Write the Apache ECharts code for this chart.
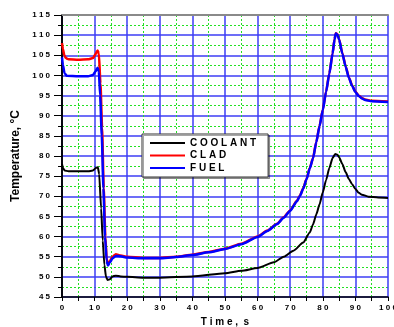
<!DOCTYPE html>
<html>
<head>
<meta charset="utf-8">
<script src="https://cdn.jsdelivr.net/npm/echarts@6/dist/echarts.min.js"></script>
<style>
  html, body { margin: 0; padding: 0; background: #fff; }
  #chart { width: 394px; height: 327px; }
</style>
</head>
<body>
<div id="chart"></div>
<script>
// time, s / temperature, °C
const coolantTime = [0, 0.3, 0.8, 2, 5, 8, 9.5, 10.5, 11, 11.4, 12, 12.5, 13, 13.5, 14, 14.7, 15.5, 16.5, 18, 20,
  25, 30, 40, 50, 55, 60, 65, 68, 71, 74, 76, 77, 78, 79, 80, 81, 82, 83, 83.8, 84.5, 85, 86, 87, 88, 89, 90, 91, 92, 94, 97, 100];
const coolantTemp = [78, 77, 76.4, 76.2, 76.2, 76.2, 76.4, 77.1, 77.2, 75.5, 67, 59, 53, 50, 49.2, 49.4, 50.1, 50.3, 50.1, 50.0,
  49.8, 49.8, 50.1, 50.9, 51.5, 52.2, 53.6, 55, 56.5, 58.5, 61, 63, 65.5, 68, 71, 74, 77, 79.5, 80.5, 80.3, 79.7, 78, 76, 74.3, 73, 71.8, 70.9, 70.4, 69.9, 69.7, 69.6];

const cladTime = [0, 0.3, 0.7, 1.2, 2, 5, 8, 9.5, 10.3, 10.9, 11.3, 11.8, 12.3, 12.8, 13.3, 13.7, 14.1, 14.6, 15.5, 16.5, 18, 20,
  25, 30, 35, 40, 45, 50, 55, 60, 63, 66, 68, 70, 72, 73, 74, 75, 76, 77, 78, 79, 80, 81, 82, 83, 83.6, 84, 84.5, 85, 86, 87, 88, 89, 90, 91, 92, 93, 95, 100];
const cladTemp = [108, 106.5, 105, 104.3, 104, 103.9, 104, 104.3, 105.3, 106.2, 105.5, 98, 87, 72, 60, 54.5, 53.3, 53.8, 55, 55.6, 55.3, 55.0,
  54.7, 54.7, 55.0, 55.5, 56.2, 57.0, 58.2, 60.0, 61.5, 63.2, 64.8, 66.5, 68.8, 70.2, 72, 74.3, 77, 79.5, 83.5, 87.5, 91.5, 96, 100.5, 105.5, 109, 110.5, 110.2, 109, 105.5, 102.3, 99.5, 97.5, 96, 95, 94.4, 94, 93.7, 93.5];

const fuelTime = [0, 0.3, 0.8, 1.5, 5, 8, 9.5, 10.3, 10.9, 11.3, 11.7, 12.2, 12.7, 13.2, 13.7, 14.1, 14.6, 15.5, 16.5, 18, 20,
  25, 30, 35, 40, 45, 50, 55, 60, 63, 66, 68, 70, 72, 73, 74, 75, 76, 77, 78, 79, 80, 81, 82, 83, 83.6, 84, 84.5, 85, 86, 87, 88, 89, 90, 91, 92, 93, 95, 100];
const fuelTemp = [104.5, 102.5, 100.5, 99.9, 99.8, 99.8, 100.1, 101, 101.9, 101, 95, 85, 72, 60, 54, 52.8, 53.5, 54.6, 55.2, 55.1, 54.8,
  54.6, 54.6, 54.9, 55.4, 56.1, 56.9, 58.1, 59.9, 61.4, 63.1, 64.7, 66.4, 68.7, 70.1, 71.9, 74.2, 76.9, 79.4, 83.4, 87.4, 91.4, 95.9, 100.4, 105.4, 108.9, 110.4, 110.1, 108.9, 105.4, 102.2, 99.4, 97.4, 95.9, 94.9, 94.3, 93.9, 93.6, 93.4];

const seriesNames = ['COOLANT', 'CLAD', 'FUEL'];

const spaced = s => String(s).split('').join(' ');
const pairs = (t, v) => t.map((x, i) => [x, v[i]]);

const chart = echarts.init(document.getElementById('chart'));
const font = '"Liberation Sans", Arial, sans-serif';

chart.setOption({
  animation: false,
  textStyle: { fontFamily: font },
  grid: { left: 62, right: 6, top: 15, bottom: 30, outerBoundsMode: 'none', containLabel: false },
  legend: {
    orient: 'vertical',
    left: 142,
    top: 134,
    padding: [4, 12, 4, 8],
    icon: 'rect',
    itemWidth: 35,
    itemHeight: 2,
    itemGap: 2.5,
    backgroundColor: '#fff',
    borderColor: '#333',
    borderWidth: 1,
    shadowColor: 'rgba(0,0,0,0.35)',
    shadowOffsetX: 1.5,
    shadowOffsetY: 1.5,
    shadowBlur: 0,
    data: seriesNames,
    formatter: name => spaced(name),
    textStyle: { fontFamily: font, fontWeight: 'bold', fontSize: 10, color: '#000' }
  },
  xAxis: [{
    type: 'value',
    min: 0,
    max: 100,
    interval: 10,
    name: spaced('Time,') + '  s',
    nameLocation: 'middle',
    nameGap: 20,
    nameTextStyle: { fontWeight: 'bold', fontSize: 10, color: '#000' },
    axisLine: { lineStyle: { color: '#000', width: 1.5 } },
    axisTick: { length: 4, lineStyle: { color: '#000', width: 1 } },
    minorTick: { show: true, splitNumber: 2, length: 4, lineStyle: { color: '#000', width: 1 } },
    axisLabel: { fontWeight: 'bold', fontSize: 8, color: '#000', margin: 7, formatter: v => spaced(v) },
    splitLine: { lineStyle: { color: '#3c3cf5', width: 1.5 } },
    minorSplitLine: { show: true, lineStyle: { color: '#22e022', width: 1, type: [2, 2] } }
  }, {
    type: 'value',
    position: 'top',
    min: 0,
    max: 100,
    axisLine: { show: true, lineStyle: { color: '#8a8a8a', width: 2 } },
    axisTick: { show: false },
    axisLabel: { show: false },
    splitLine: { show: false }
  }],
  yAxis: [{
    type: 'value',
    min: 45,
    max: 115,
    interval: 5,
    name: 'Temperature, °C',
    nameLocation: 'middle',
    nameGap: 37,
    nameTextStyle: { fontWeight: 'bold', fontSize: 12, color: '#000' },
    axisLine: { show: true, lineStyle: { color: '#000', width: 1.5 } },
    axisTick: { length: 8, lineStyle: { color: '#000', width: 1 } },
    minorTick: { show: true, splitNumber: 2, length: 4, lineStyle: { color: '#000', width: 1 } },
    axisLabel: { fontWeight: 'bold', fontSize: 8, color: '#000', margin: 12, formatter: v => spaced(v) },
    splitLine: { lineStyle: { color: '#3c3cf5', width: 1.5 } },
    minorSplitLine: { show: true, lineStyle: { color: '#22e022', width: 1, type: [2, 2] } }
  }, {
    type: 'value',
    position: 'right',
    min: 45,
    max: 115,
    axisLine: { show: true, lineStyle: { color: '#000', width: 1.5 } },
    axisTick: { show: false },
    axisLabel: { show: false },
    splitLine: { show: false }
  }],
  series: [
    {
      name: 'COOLANT', type: 'line', symbol: 'none', smooth: 0.2, smoothMonotone: 'x',
      lineStyle: { color: '#000', width: 2 }, itemStyle: { color: '#000' },
      data: pairs(coolantTime, coolantTemp)
    },
    {
      name: 'CLAD', type: 'line', symbol: 'none', smooth: 0.2, smoothMonotone: 'x',
      lineStyle: { color: '#ff0000', width: 2.5 }, itemStyle: { color: '#ff0000' },
      data: pairs(cladTime, cladTemp)
    },
    {
      name: 'FUEL', type: 'line', symbol: 'none', smooth: 0.2, smoothMonotone: 'x',
      lineStyle: { color: '#0000ff', width: 2.5 }, itemStyle: { color: '#0000ff' },
      data: pairs(fuelTime, fuelTemp)
    }
  ]
});
</script>
</body>
</html>
